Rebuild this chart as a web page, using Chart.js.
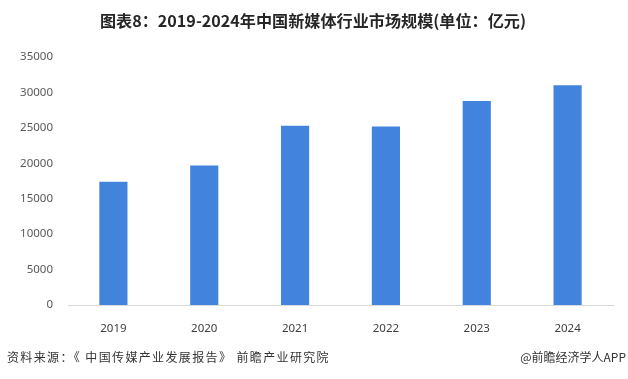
<!DOCTYPE html>
<html><head><meta charset="utf-8">
<script src="https://cdn.jsdelivr.net/npm/chart.js@4/dist/chart.umd.min.js"></script>
<style>
html,body{margin:0;padding:0;background:#fff;}
#wrap{position:relative;width:628px;height:379px;overflow:hidden;}
#title{position:absolute;left:100px;top:9px;font:bold 16px "Noto Sans CJK SC",sans-serif;color:#262626;white-space:nowrap;transform-origin:0 0;line-height:23px;}
#src{position:absolute;left:7px;top:348px;font:12px "Noto Sans CJK SC",sans-serif;color:#333;white-space:nowrap;line-height:18px;}
#app{position:absolute;right:2px;top:348px;font:12px "Noto Sans CJK SC",sans-serif;color:#333;white-space:nowrap;line-height:18px;}
canvas{position:absolute;left:0;top:0;}
</style></head>
<body><div id="wrap">
<canvas id="c" width="628" height="379"></canvas>
<div id="title">图表8：2019-2024年中国新媒体行业市场规模(单位：亿元)</div>
<div id="src">资料来源：《 中国传媒产业发展报告》 前瞻产业研究院</div>
<div id="app">@前瞻经济学人APP</div>
</div>
<script>
const categories = ['2019','2020','2021','2022','2023','2024'];
const marketSize = [17400, 19700, 25300, 25200, 28800, 31000];
const yTicks = [0,5000,10000,15000,20000,25000,30000,35000];

const t = document.getElementById('title');
const w = t.getBoundingClientRect().width;
t.style.transform = 'scaleX(' + (426 / w) + ')';
const s = document.getElementById('src');
const sw = s.getBoundingClientRect().width;
s.style.letterSpacing = ((323 - sw) / s.textContent.length) + 'px';

new Chart(document.getElementById('c'), {
  type: 'bar',
  data: { labels: categories, datasets: [{ data: marketSize, backgroundColor: '#4283DD', barPercentage: 0.62, categoryPercentage: 0.5 }] },
  options: {
    responsive: false, animation: false,
    layout: { padding: { top: 57, right: 15, left: 0, bottom: 0 } },
    plugins: { legend: { display: false }, tooltip: { enabled: false } },
    scales: {
      x: {
        grid: { display: false },
        border: { display: true, color: '#d9d9d9', width: 1 },
        ticks: { color: '#404040', font: { family: 'Noto Sans', size: 11.5 }, padding: 9 },
        afterFit: s => { s.height = 74; }
      },
      y: {
        min: 0, max: 35000,
        grid: { display: false, drawTicks: false },
        border: { display: false },
        afterBuildTicks: s => { s.ticks = yTicks.map(v => ({ value: v })); },
        ticks: { color: '#595959', font: { family: 'Noto Sans', size: 11.5 }, padding: 15, callback: v => String(v) },
        afterFit: s => { s.width = 68; }
      }
    }
  }
});
</script>
</body></html>
